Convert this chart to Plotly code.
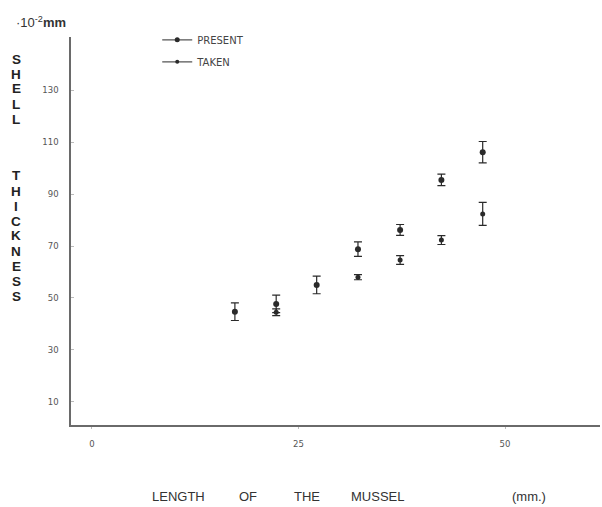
import plotly.graph_objects as go

# ---- data ----
length_present = [17.3, 22.3, 27.2, 32.2, 37.3, 42.3, 47.3]
thick_present = [44.7, 47.7, 55.0, 68.8, 76.2, 95.5, 106.2]
err_present = [3.4, 3.4, 3.4, 2.8, 2.1, 2.2, 4.1]

length_taken = [22.3, 32.2, 37.3, 42.3, 47.3]
thick_taken = [44.5, 58.0, 64.6, 72.3, 82.4]
err_taken = [1.3, 1.0, 1.7, 1.7, 4.4]

x_ticks = [0, 25, 50]
y_ticks = [10, 30, 50, 70, 90, 110, 130]

ink = "#2a2a2a"
axis_col = "#6a6a6a"
tick_font = dict(family="DejaVu Sans", size=8.5, color="#555")

fig = go.Figure()

fig.add_trace(go.Scatter(
    x=length_present, y=thick_present, mode="markers",
    marker=dict(symbol="circle", size=6, color=ink),
    error_y=dict(type="data", array=err_present, color=ink, thickness=1.2, width=4),
    showlegend=False, name="PRESENT"))
fig.add_trace(go.Scatter(
    x=length_taken, y=thick_taken, mode="markers",
    marker=dict(symbol="circle", size=5, color=ink),
    error_y=dict(type="data", array=err_taken, color=ink, thickness=1.2, width=4),
    showlegend=False, name="TAKEN"))

# legend entries (line + dot symbol as in the reference)
fig.add_trace(go.Scatter(x=[None], y=[None], mode="lines+markers", name="PRESENT",
                         line=dict(color="#555", width=1.2),
                         marker=dict(size=5, color=ink), legendgroup="a"))
fig.add_trace(go.Scatter(x=[None], y=[None], mode="lines+markers", name="TAKEN",
                         line=dict(color="#555", width=1.2),
                         marker=dict(size=4, color=ink), legendgroup="b"))

fig.update_layout(
    width=602, height=507,
    margin=dict(l=71, r=2, t=37, b=82, autoexpand=False),
    paper_bgcolor="white", plot_bgcolor="white",
    showlegend=True,
    legend=dict(x=0.163, y=1.03, xanchor="left", yanchor="top",
                font=dict(family="DejaVu Sans", size=10, color="#444"),
                tracegroupgap=3, bgcolor="rgba(0,0,0,0)", itemwidth=30),
    xaxis=dict(range=[-2.54, 61.5], tickvals=x_ticks, ticktext=[str(v) for v in x_ticks],
               showgrid=False, zeroline=False, showline=True, linecolor=axis_col,
               linewidth=1.5, ticks="outside", ticklen=2, tickcolor="#bbb",
               tickfont=tick_font, ticklabelstandoff=8, automargin=False),
    yaxis=dict(range=[1.0, 150.6], tickvals=y_ticks, ticktext=[str(v) for v in y_ticks],
               showgrid=False, zeroline=False, showline=True, linecolor=axis_col,
               linewidth=1.5, ticks="inside", ticklen=3, tickcolor="#bbb",
               tickfont=tick_font, ticklabelstandoff=9, automargin=False),
)

# Stacked vertical y-axis title letters
plot_top, plot_bottom, plot_left, plot_w = 37, 425, 71, 529
def py2paper(py):
    return (plot_bottom - py) / (plot_bottom - plot_top)
def px2paper(px):
    return (px - plot_left) / plot_w

title_font = dict(family="Liberation Sans", size=13.5, color="#222")
for i, ch in enumerate("SHELL"):
    fig.add_annotation(text="<b>" + ch + "</b>", x=px2paper(16), y=py2paper(59 + i * 15.0),
                       xref="paper", yref="paper", showarrow=False, font=title_font,
                       xanchor="center", yanchor="middle")
for i, ch in enumerate("THICKNESS"):
    fig.add_annotation(text="<b>" + ch + "</b>", x=px2paper(16), y=py2paper(176 + i * 15.0),
                       xref="paper", yref="paper", showarrow=False, font=title_font,
                       xanchor="center", yanchor="middle")

# unit label top-left
fig.add_annotation(text="·10<sup>-2</sup><b>mm</b>", x=px2paper(14), y=py2paper(22),
                   xref="paper", yref="paper", showarrow=False, xanchor="left", yanchor="middle",
                   font=dict(family="Liberation Sans", size=13, color="#333"))

# x-axis title words
xt_font = dict(family="Liberation Sans", size=13, color="#333")
for word, cx in [("LENGTH", 178), ("OF", 248), ("THE", 307), ("MUSSEL", 377), ("(mm.)", 529)]:
    fig.add_annotation(text=word, x=px2paper(cx), y=py2paper(496),
                       xref="paper", yref="paper", showarrow=False,
                       xanchor="center", yanchor="middle", font=xt_font)

fig.write_html("out.html", config={"displayModeBar": False},
               post_script="document.body.style.margin='0';document.body.style.overflow='hidden';")
